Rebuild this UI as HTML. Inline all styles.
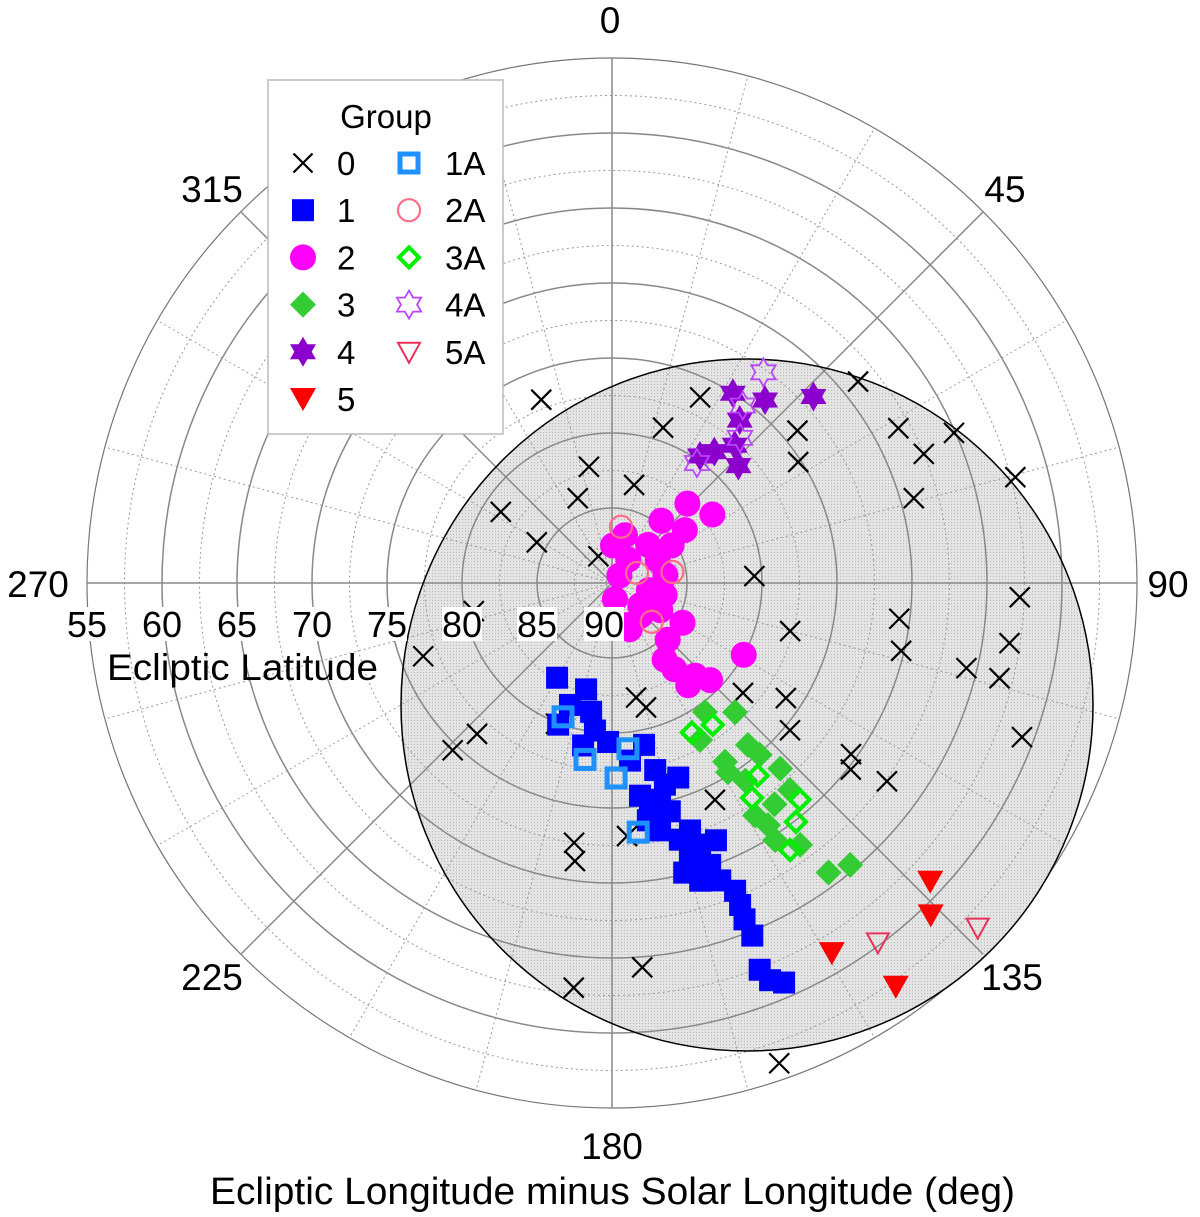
<!DOCTYPE html>
<html><head><meta charset="utf-8"><style>
body{margin:0;background:#fff;}
svg{display:block;font-family:"Liberation Sans",Arial,sans-serif;}
</style></head><body>
<svg id="chart" width="1200" height="1217" viewBox="0 0 1200 1217" xmlns="http://www.w3.org/2000/svg">
<defs>
<pattern id="dots" width="3" height="3" patternUnits="userSpaceOnUse"><rect width="3" height="3" fill="#e4e4e4"/><rect width="1" height="1" fill="#b8b8b8"/></pattern>
</defs>
<g id="grid"></g>
<g id="marks"></g>
<g id="labels"></g>
<g id="legend"></g>
</svg>
<script>
const g0Lon=[338.9,348.8,338,302.6,298.4,333,258.5,248.8,223.6,221.8,201.7,168.1,164.7,12.7,18.2,25.4,50.6,57,50.7,61.6,67.5,66.3,74.3,75.3,87.2,105.1,97.1,103.2,92,98.6,103.5,103.8,110.6,130,123.5,129.6,125.6,128,125.8,154.6,176.6,188.3,187.6,175.5,185.4,160.8];
const g0Lat=[76.9,82.1,83.9,81.2,84.3,88,80.6,76.5,74.6,76.5,79.9,82.2,81.4,83.3,79.1,76.3,74,75.2,68.8,68.3,67.5,65.1,69.1,62.2,80.5,77.7,70.7,70.2,62.8,63.2,65.7,63.4,60.8,78.6,76.1,74.6,70.4,69.8,67.4,74,73.1,72.5,71.3,64.3,62.9,56.1];
const g1Lon=[210.1,193.7,199,200.8,189.2,186.6,190.1,181.4,174.2,168.8,167,161.2,172.5,167.5,165.8,171.4,169,165.2,162.5,161.4,164.3,166,160.8,160,158.2,158.3,158.5,158.3,159.1,158.3,156.7,158,163.5,170.5,165.3];
const g1Lat=[82.7,82.7,81.4,79.9,81.3,80.1,79,79.4,78.1,79,77.2,76.3,75.7,75.2,74.3,74,73.2,72.3,72.7,71.6,70.8,70.1,70.1,68.9,67.9,66.9,65.9,64.7,62.4,61.5,61,71.5,69.3,74.7,76.1];
const g1aLon=[200.1,188.7,178.8,174.5,174];
const g1aLat=[80.5,78.1,77,78.9,73.3];
const g2Lon=[43.5,55.7,38.4,54,43.5,57.7,15.2,1.5,34.8,45,63.4,81.4,101,102.8,128.2,119.4,159.1,138.8,119.4,135.5,159,145.5,144.1,138.1,134.7,143.3,118.6,170];
const g2Lat=[82.7,81.9,84.7,84,86.5,85.3,86.7,87.5,88.1,89.3,86.6,86.4,87.5,86.4,87.6,86.3,87,87.1,84.6,84.7,86.7,83.8,82.9,81.7,80.8,81.5,80,88.9];
const g2aLon=[9.1,68.2,79.6,134.3];
const g2aLat=[86.2,88.2,85.9,86.3];
const g3Lon=[144.2,136.4,150.7,147.7,140,139.3,148.5,146,137.8,148.4,147.2,147.6,144.3,143.2,139.8,143.7,139.3];
const g3Lat=[79.4,78.1,78,75.9,75.9,74.9,75.2,74.1,73.3,71.8,70.8,69.7,68.5,65.9,65.4,71.7,71.8];
const g3aLon=[151.9,144.6,142.9,146.9,139.1,142.4,146.3];
const g3aLat=[78.7,78.4,73.9,72.9,70.9,69.9,68.6];
const g4Lon=[32.5,39.9,47.2,38.1,37.9,34.7,47.1,41.7];
const g4Lat=[75,74.1,71.7,76.2,78.9,79.7,78.5,77.7];
const g4aLon=[35.7,36.4,41.4,35.3];
const g4aLat=[72.7,75.3,77.1,80.2];
const g5Lon=[133.2,136.2,149.3,144.9];
const g5Lat=[60.9,59.3,61.3,57.1];
const g5aLon=[143.5,133.3];
const g5aLat=[60.2,56.5];
const angleTicks=[0,45,90,135,180,225,270,315];
const latTicks=[55,60,65,70,75,80,85,90];

const NS="http://www.w3.org/2000/svg";
const CX=612,CY=583,PX=15,LATMIN=55;
function rScale(lat){return (90-lat)*PX;}
function pos(lon,lat){const a=lon*Math.PI/180,r=rScale(lat);return [CX+r*Math.sin(a),CY-r*Math.cos(a)];}
function mk(tag,attrs,parent){const e=document.createElementNS(NS,tag);for(const k in attrs)e.setAttribute(k,attrs[k]);parent.appendChild(e);return e;}
const grid=document.getElementById('grid'),marks=document.getElementById('marks'),labels=document.getElementById('labels'),legend=document.getElementById('legend');
const R=rScale(LATMIN);
mk('circle',{cx:CX,cy:CY,r:R,fill:'#fff',stroke:'#777','stroke-width':1.2},grid);
const shade=mk('circle',{cx:747,cy:705,r:346,fill:'url(#dots)',stroke:'none'},grid);


for(let d=2.5;d<35;d+=5){mk('circle',{cx:CX,cy:CY,r:d*PX,fill:'none',stroke:'#999','stroke-width':1,'stroke-dasharray':'2,3'},grid);}
for(let d=5;d<35;d+=5){mk('circle',{cx:CX,cy:CY,r:d*PX,fill:'none',stroke:'#888','stroke-width':1.5},grid);}
for(let a=0;a<360;a+=15){const [x,y]=pos(a,LATMIN);const solid=a%45===0;mk('line',{x1:CX,y1:CY,x2:x,y2:y,stroke:solid?'#888':'#999','stroke-width':solid?1.5:1,'stroke-dasharray':solid?'none':'2,3'},grid);}
mk('circle',{cx:747,cy:705,r:346,fill:'none',stroke:'#000','stroke-width':1.5},grid);

function star(cx,cy,s){let p=[];for(let i=0;i<12;i++){const a=i*Math.PI/6;const rr=i%2===0?s:s*0.58;p.push((cx+rr*Math.sin(a)).toFixed(1)+','+(cy-rr*Math.cos(a)).toFixed(1));}return p.join(' ');}
function marker(type,x,y,parent,scale){
  const s=scale||1;let e;
  if(type==='x'){e=mk('path',{d:`M${x-10*s},${y-10*s}L${x+10*s},${y+10*s}M${x-10*s},${y+10*s}L${x+10*s},${y-10*s}`,stroke:'#000','stroke-width':2.2,fill:'none'},parent);}
  else if(type==='sq'){e=mk('rect',{x:x-11*s,y:y-11*s,width:22*s,height:22*s,fill:'#0000ff'},parent);}
  else if(type==='osq'){e=mk('rect',{x:x-9*s,y:y-9*s,width:18*s,height:18*s,fill:'none',stroke:'#1e90ff','stroke-width':5*s},parent);}
  else if(type==='ci'){e=mk('circle',{cx:x,cy:y,r:13*s,fill:'#ff00ff'},parent);}
  else if(type==='oci'){e=mk('circle',{cx:x,cy:y,r:11*s,fill:'none',stroke:'#ff6e8a','stroke-width':2.2},parent);}
  else if(type==='di'){e=mk('polygon',{points:`${x},${y-13*s} ${x+13*s},${y} ${x},${y+13*s} ${x-13*s},${y}`,fill:'#33cc33'},parent);}
  else if(type==='odi'){e=mk('polygon',{points:`${x},${y-10*s} ${x+10*s},${y} ${x},${y+10*s} ${x-10*s},${y}`,fill:'none',stroke:'#00ee00','stroke-width':4*s},parent);}
  else if(type==='st'){e=mk('polygon',{points:star(x,y,15*s),fill:'#8b00cc'},parent);}
  else if(type==='ost'){e=mk('polygon',{points:star(x,y,14*s),fill:'none',stroke:'#bb44ff','stroke-width':1.8},parent);}
  else if(type==='tri'){e=mk('polygon',{points:`${x-13*s},${y-11*s} ${x+13*s},${y-11*s} ${x},${y+12*s}`,fill:'#ff0000'},parent);}
  else if(type==='otri'){e=mk('polygon',{points:`${x-11*s},${y-9*s} ${x+11*s},${y-9*s} ${x},${y+11*s}`,fill:'none',stroke:'#e8305a','stroke-width':2},parent);}
  return e;
}
const series=[
 ['group-0','x',g0Lon,g0Lat],['group-3','di',g3Lon,g3Lat],['group-3a','odi',g3aLon,g3aLat],
 ['group-1','sq',g1Lon,g1Lat],['group-1a','osq',g1aLon,g1aLat],
 ['group-4','st',g4Lon,g4Lat],['group-4a','ost',g4aLon,g4aLat],
 ['group-2','ci',g2Lon,g2Lat],['group-2a','oci',g2aLon,g2aLat],
 ['group-5','tri',g5Lon,g5Lat],['group-5a','otri',g5aLon,g5aLat]];
series.forEach(([name,type,lons,lats])=>{
  const grp=mk('g',{},marks);
  
  
  lons.forEach((lon,i)=>{const [x,y]=pos(lon,lats[i]);const e=marker(type,x,y,grp);
    
    });
});
const angPos={0:[610,33],45:[1005,202],90:[1168,597],135:[1012,990],180:[612,1159],225:[212,990],270:[38,597],315:[212,202]};
angleTicks.forEach(a=>{const [x,y]=angPos[a];
  const t=mk('text',{x:x,y:y,'font-size':37,'text-anchor':'middle',fill:'#000'},labels);t.textContent=a;
  
  });
latTicks.forEach(l=>{const x=CX-rScale(l)-(l===90?8:0);
  const bg=mk('rect',{x:x-20,y:607,width:40,height:34,fill:'#fff'},labels);
  
  
  const t=mk('text',{x:x,y:637,'font-size':36,'text-anchor':'middle',fill:'#000'},labels);t.textContent=l;
  
  });
const lt=mk('text',{x:107,y:680,'font-size':37,textLength:271,lengthAdjust:'spacingAndGlyphs',fill:'#000'},labels);lt.textContent='Ecliptic Latitude';


const xt=mk('text',{x:210,y:1204,'font-size':38,textLength:805,lengthAdjust:'spacingAndGlyphs',fill:'#000'},labels);xt.textContent='Ecliptic Longitude minus Solar Longitude (deg)';


const box=mk('rect',{x:268,y:80,width:235,height:354,fill:'#fff',stroke:'#bbb','stroke-width':1.5},legend);


const tt=mk('text',{x:386,y:128,'font-size':33,'text-anchor':'middle'},legend);tt.textContent='Group';


const leg=[['x','0',0,0],['sq','1',0,1],['ci','2',0,2],['di','3',0,3],['st','4',0,4],['tri','5',0,5],
 ['osq','1A',1,0],['oci','2A',1,1],['odi','3A',1,2],['ost','4A',1,3],['otri','5A',1,4]];
leg.forEach(([type,lab,c,r])=>{const y=163+r*47.2;const mx=c?409:303,tx=c?445:337;
  const gg=mk('g',{},legend);
  
  
  marker(type,mx,y,gg,type==='x'?0.95:1);
  const t=mk('text',{x:tx,y:y+12,'font-size':33},gg);t.textContent=lab;});
</script>
</body></html>
